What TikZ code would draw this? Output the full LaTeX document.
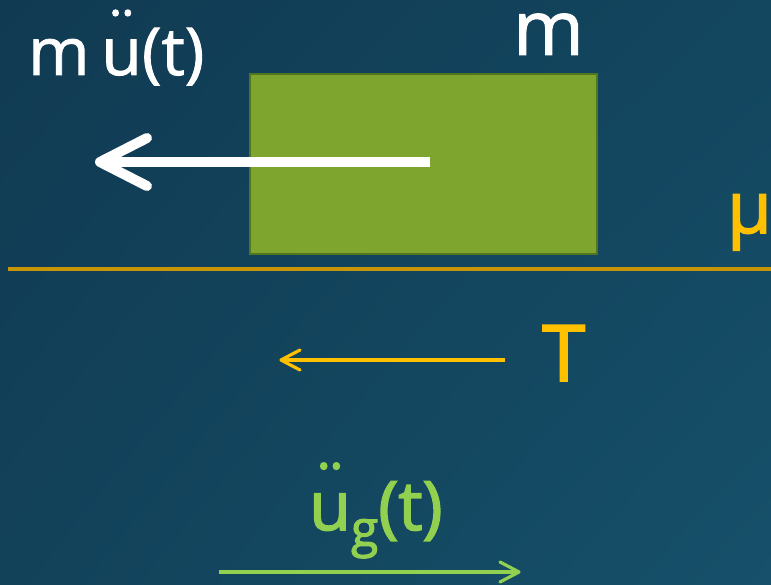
\documentclass[tikz,border=0pt]{standalone}
\usepackage{fontspec}
\setmainfont{Open Sans}
\newfontfamily\semib[FakeBold=1.3]{Open Sans}
\newfontfamily\heavy[FakeBold=2.2]{Open Sans}
\usetikzlibrary{arrows.meta,shadings,calc}
\definecolor{bgA}{RGB}{16,58,82}
\definecolor{bgB}{RGB}{19,70,95}
\definecolor{bgC}{RGB}{18,66,90}
\definecolor{bgD}{RGB}{22,80,106}
\definecolor{blockfill}{RGB}{126,166,46}
\definecolor{blockdraw}{RGB}{82,118,30}
\definecolor{groundcol}{RGB}{200,148,8}
\definecolor{gold}{RGB}{255,192,0}
\definecolor{lightgreen}{RGB}{146,208,80}
\newcommand\uddot{\ooalign{u\cr\hfil\raisebox{0.26em}{¨}\hfil\cr}}
\tikzset{
  bigtext/.style={inner sep=0pt},
  chevron/.style={line cap=round, line join=round},
}
\begin{document}
\begin{tikzpicture}[x=1pt,y=-1pt]
\useasboundingbox (0,0) rectangle (771,585);
\shade[upper left=bgA, upper right=bgB, lower left=bgC, lower right=bgD] (0,0) rectangle (771,585);
% block
\node[draw=blockdraw, fill=blockfill, line width=2pt, minimum width=347pt, minimum height=180pt, inner sep=0pt, anchor=north west] (block) at (249,73) {};
% ground
\coordinate (g1) at (8,269);
\coordinate (g2) at (771,269);
\draw[groundcol, line width=4.5pt] (g1) -- (g2);
% labels
\node[bigtext, white, anchor=base west, font=\semib\fontsize{66}{70}\selectfont] (mu) at (28,75) {m\hspace{0.18em}\uddot(t)};
\node[bigtext, white, anchor=base west, font=\semib\fontsize{76}{80}\selectfont] (mlab) at (513,55) {m};
\node[bigtext, gold, anchor=base west, font=\heavy\fontsize{72}{80}\selectfont] (mulab) at (727,233) {μ};
\node[bigtext, gold, anchor=base west, font=\heavy\fontsize{78}{80}\selectfont] (T) at (542,381) {T};
\node[bigtext, lightgreen, anchor=base west, font=\heavy\fontsize{68}{80}\selectfont] (ug) at (309,530) {\uddot\raisebox{-0.24em}{\fontsize{50}{60}\selectfont g}(t)};
% white arrow
\coordinate (wa1) at (430,162);
\coordinate (wa2) at (100,162);
\draw[white, line width=10pt] (wa1) -- (wa2);
\draw[white, line width=10pt, chevron] ($(wa2)+(47,-24)$) -- (wa2) -- ($(wa2)+(47,24)$);
% orange arrow
\coordinate (oa1) at (505,360);
\coordinate (oa2) at (281,360);
\draw[gold, line width=3.2pt] (oa1) -- (oa2);
\draw[gold, line width=3.2pt, chevron] ($(oa2)+(19,-10)$) -- (oa2) -- ($(oa2)+(19,10)$);
% green arrow
\coordinate (ga1) at (219,572);
\coordinate (ga2) at (519,572);
\draw[lightgreen, line width=3.2pt] (ga1) -- (ga2);
\draw[lightgreen, line width=3.2pt, chevron] ($(ga2)+(-19,-10)$) -- (ga2) -- ($(ga2)+(-19,10)$);
\end{tikzpicture}
\end{document}
